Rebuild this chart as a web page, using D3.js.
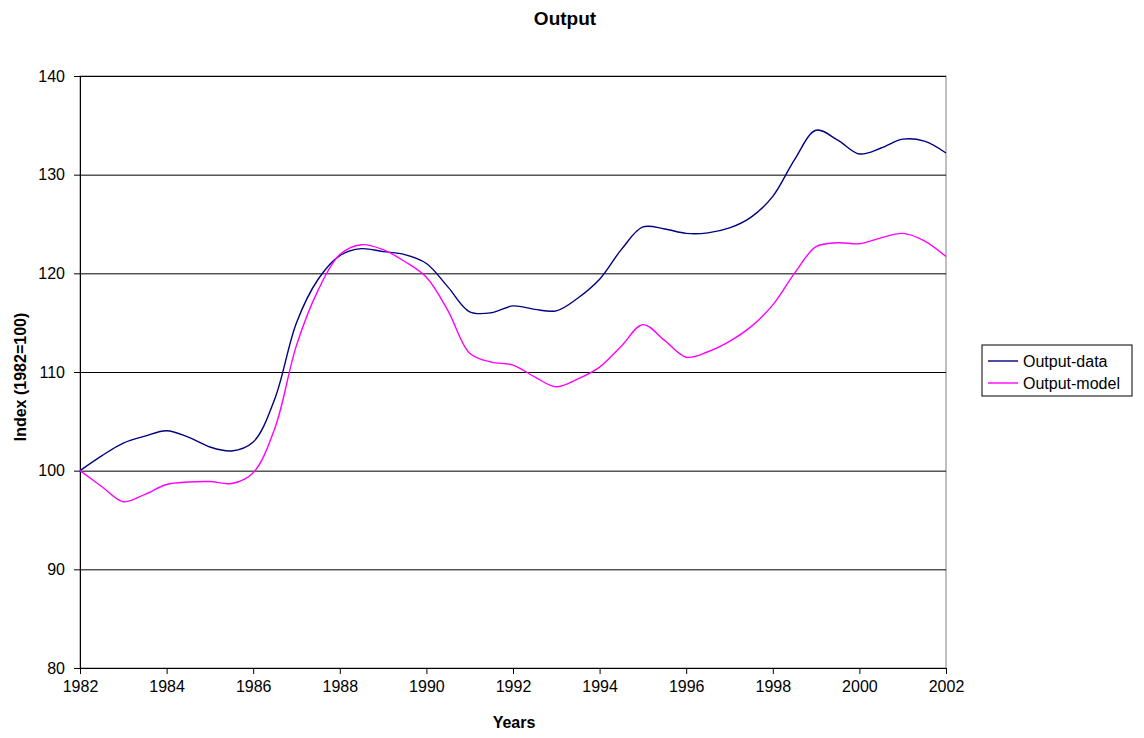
<!DOCTYPE html>
<html>
<head>
<meta charset="utf-8">
<script src="https://cdn.jsdelivr.net/npm/d3@7"></script>
<style>
  body { margin: 0; background: #fff; }
  text { font-family: "Liberation Sans", Arial, sans-serif; }
</style>
</head>
<body>
<svg id="chart" width="1144" height="738"></svg>
<script>
// half-yearly points, 1982 .. 2002
const years = d3.range(0, 41).map(i => 1982 + i * 0.5);
const outputData = [
  100, 101.5, 102.8, 103.5, 104.05, 103.4, 102.4, 102.0, 102.9, 107.3,
  115.0, 119.4, 121.8, 122.5, 122.2, 121.9, 121.0, 118.6, 116.1, 116.0,
  116.7, 116.35, 116.2, 117.5, 119.4, 122.4, 124.7, 124.5, 124.05, 124.1,
  124.6, 125.7, 127.8, 131.5, 134.5, 133.5, 132.1, 132.7, 133.6, 133.4,
  132.2
];
const outputModel = [
  100, 98.4, 96.85, 97.6, 98.6, 98.85, 98.9, 98.7, 99.8, 104.3,
  112.7, 118.3, 121.9, 122.9, 122.4, 121.2, 119.6, 116.2, 111.9, 111.0,
  110.7, 109.5, 108.5, 109.3, 110.5, 112.6, 114.8, 113.2, 111.5, 112.05,
  113.1, 114.6, 116.8, 120.0, 122.7, 123.1, 123.0, 123.6, 124.05, 123.3,
  121.7
];
const xTicks = d3.range(1982, 2003, 2);
const yTicks = [80, 90, 100, 110, 120, 130, 140];

const series = [
  { name: "Output-data", values: outputData, color: "#000080" },
  { name: "Output-model", values: outputModel, color: "#ff00ff" }
];

const svg = d3.select("#chart");
const margin = { top: 76, right: 198, bottom: 70, left: 80 };
const width = 1144 - margin.left - margin.right,
  height = 738 - margin.top - margin.bottom;

const g = svg.append("g")
  .attr("transform", "translate(" + margin.left + "," + margin.top + ")");

const x = d3.scaleLinear().domain([1982, 2002]).range([0, width]);
const y = d3.scaleLinear().domain([80, 140]).range([height, 0]);

// plot area border (grey)
g.append("rect")
  .attr("width", width).attr("height", height)
  .attr("fill", "none").attr("stroke", "#808080");

// gridlines
g.append("g")
  .selectAll("line")
  .data(yTicks.slice(1))
  .enter().append("line")
  .attr("x1", 0).attr("x2", width)
  .attr("y1", d => y(d) + 0.5).attr("y2", d => y(d) + 0.5)
  .attr("stroke", "#000");

// axes
const yAxis = g.append("g")
  .call(d3.axisLeft(y).tickValues(yTicks).tickSize(6).tickSizeOuter(0));
const xAxis = g.append("g")
  .attr("transform", "translate(0," + height + ")")
  .call(d3.axisBottom(x).tickValues(xTicks).tickFormat(d3.format("d")).tickSize(6).tickSizeOuter(0));

[yAxis, xAxis].forEach(a => {
  a.select(".domain").attr("stroke", "#000");
  a.selectAll(".tick line").attr("stroke", "#000");
  a.selectAll("text")
    .attr("font-family", "Liberation Sans, Arial, sans-serif")
    .attr("font-size", 16).attr("fill", "#000");
});
yAxis.selectAll("text").attr("x", -15);
xAxis.selectAll("text").attr("y", 13);

// lines
const line = d3.line()
  .x((d, i) => x(years[i]))
  .y(d => y(d))
  .curve(d3.curveCatmullRom.alpha(0.5));

series.forEach(s => {
  g.append("path")
    .datum(s.values)
    .attr("fill", "none")
    .attr("stroke", s.color)
    .attr("stroke-width", 1.4)
    .attr("d", line);
});

// titles
svg.append("text")
  .attr("x", 565).attr("y", 25)
  .attr("text-anchor", "middle")
  .attr("font-size", 19).attr("font-weight", "bold")
  .text("Output");

svg.append("text")
  .attr("x", 514).attr("y", 728)
  .attr("text-anchor", "middle")
  .attr("font-size", 16).attr("font-weight", "bold")
  .text("Years");

svg.append("text")
  .attr("transform", "translate(26,377) rotate(-90)")
  .attr("text-anchor", "middle")
  .attr("font-size", 16).attr("font-weight", "bold")
  .text("Index (1982=100)");

// legend
const legend = svg.append("g").attr("transform", "translate(982,345)");
legend.append("rect")
  .attr("width", 150).attr("height", 51)
  .attr("fill", "#fff").attr("stroke", "#000");
const items = legend.selectAll("g.item")
  .data(series)
  .enter().append("g")
  .attr("transform", (d, i) => "translate(0," + (16 + i * 22) + ")");
items.append("line")
  .attr("x1", 6).attr("x2", 36)
  .attr("stroke", d => d.color).attr("stroke-width", 1.4);
items.append("text")
  .attr("x", 41).attr("dy", "0.35em")
  .attr("font-size", 16)
  .text(d => d.name);
</script>
</body>
</html>
